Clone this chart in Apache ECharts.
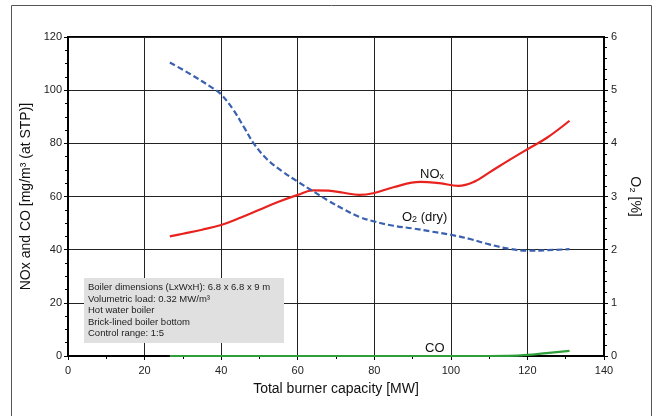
<!DOCTYPE html>
<html><head><meta charset="utf-8">
<script src="https://cdn.jsdelivr.net/npm/echarts@6/dist/echarts.min.js"></script>
<style>html,body{margin:0;padding:0;background:#fff}#c{width:656px;height:416px}</style>
</head><body><div id="c"></div>
<script>
const noxX = [26.6, 30, 35, 40, 45, 50, 55, 60, 64, 68, 72, 76, 80, 85, 92, 97, 102, 106, 110, 115, 120, 125, 131];
const noxY = [45, 46, 47.5, 49.3, 52, 55, 58, 60.6, 62.3, 62.2, 61.4, 60.6, 61.3, 63.5, 65.5, 65, 64, 65.5, 69, 73.5, 77.8, 82, 88.5];
const o2X = [26.6, 32, 38, 40, 43, 46, 48.5, 52, 56, 60, 64, 68, 72, 76, 80, 85, 90, 95, 100, 105, 110, 115, 120, 125, 131];
const o2Y = [5.52, 5.3, 5.03, 4.92, 4.65, 4.3, 4.0, 3.7, 3.47, 3.28, 3.1, 2.92, 2.76, 2.62, 2.53, 2.45, 2.4, 2.34, 2.28, 2.2, 2.1, 2.02, 1.98, 1.99, 2.01];
const coX = [26.6, 40, 60, 80, 100, 110, 115, 120, 125, 131];
const coY = [0, 0, 0, 0, 0, 0, 0.05, 0.4, 1.1, 1.9];
const infoLines = ['Boiler dimensions (LxWxH): 6.8 x 6.8 x 9 m', 'Volumetric load: 0.32 MW/m³', 'Hot water boiler', 'Brick-lined boiler bottom', 'Control range: 1:5'];

const pairs = (xs, ys) => xs.map((x, i) => [x, ys[i]]);
const chart = echarts.init(document.getElementById('c'), null, {renderer: 'canvas'});
const font = 'Arial, "Liberation Sans", sans-serif';
const lbl = {color: '#222', fontSize: 11, fontFamily: font};
chart.setOption({
  animation: false,
  grid: {left: 68, right: 52, top: 37, bottom: 60, show: true, borderColor: '#000', borderWidth: 2, backgroundColor: 'transparent'},
  xAxis: {
    type: 'value', min: 0, max: 140, interval: 20,
    name: 'Total burner capacity [MW]', nameLocation: 'middle', nameGap: 26,
    nameTextStyle: {fontSize: 14, color: '#111', fontFamily: font},
    axisLine: {lineStyle: {color: '#000', width: 2}},
    axisTick: {show: true, length: 4, lineStyle: {color: '#000'}},
    minorTick: {show: true, splitNumber: 2, length: 3, lineStyle: {color: '#000'}},
    axisLabel: Object.assign({margin: 9}, lbl),
    splitLine: {show: true, lineStyle: {color: '#222', width: 1}}
  },
  yAxis: [{
    type: 'value', min: 0, max: 120, interval: 20,
    name: 'NOx and CO [mg/m³ (at STP)]', nameLocation: 'middle', nameGap: 32,
    nameTextStyle: {fontSize: 14, color: '#111', fontFamily: font},
    axisLine: {show: true, lineStyle: {color: '#000', width: 2}},
    axisTick: {show: true, length: 4, lineStyle: {color: '#000'}},
    minorTick: {show: true, splitNumber: 4, length: 3, lineStyle: {color: '#000'}},
    axisLabel: Object.assign({margin: 6}, lbl),
    splitLine: {show: true, lineStyle: {color: '#222', width: 1}}
  }, {
    type: 'value', min: 0, max: 6, interval: 1, position: 'right',
    name: 'O₂ [%]', nameLocation: 'middle', nameGap: 24, nameRotate: -90,
    nameTextStyle: {fontSize: 14, color: '#111', fontFamily: font},
    axisLine: {show: true, lineStyle: {color: '#000', width: 2}},
    axisTick: {show: true, length: 4, lineStyle: {color: '#000'}},
    minorTick: {show: true, splitNumber: 5, length: 3, lineStyle: {color: '#000'}},
    axisLabel: Object.assign({margin: 7}, lbl),
    splitLine: {show: false}
  }],
  series: [
    {type: 'line', name: 'NOx', data: pairs(noxX, noxY), smooth: 0.4, showSymbol: false, yAxisIndex: 0,
      lineStyle: {color: '#e8231f', width: 2.2}, z: 3},
    {type: 'line', name: 'O2', data: pairs(o2X, o2Y), smooth: 0.4, showSymbol: false, yAxisIndex: 1,
      lineStyle: {color: '#3a60b0', width: 2.2, type: [6, 3]}, z: 3},
    {type: 'line', name: 'CO', data: pairs(coX, coY), smooth: 0.4, showSymbol: false, yAxisIndex: 0,
      lineStyle: {color: '#2e9e3a', width: 2.2}, z: 4}
  ],
  graphic: [
    {type: 'rect', shape: {x: 11.5, y: 5.5, width: 640, height: 420}, style: {fill: 'none', stroke: '#555', lineWidth: 1}, z: 0, silent: true},
    {type: 'rect', shape: {x: 84, y: 278, width: 200, height: 65}, style: {fill: '#e0e0e0'}, z: 10},
    {type: 'text', left: 88, top: 282, z: 11, style: {text: infoLines.join('\n'), fontSize: 9.5, lineHeight: 11.4, fill: '#222', fontFamily: font}},
    {type: 'text', left: 420, top: 168, z: 11, style: {text: '{a|NO}{b|x}', rich: {a: {fontSize: 13, fill: '#111', fontFamily: font}, b: {fontSize: 9, fill: '#111', fontFamily: font, padding: [5, 0, 0, 0]}}}},
    {type: 'text', left: 402, top: 211, z: 11, style: {text: '{a|O}{b|2}{a| (dry)}', rich: {a: {fontSize: 13, fill: '#111', fontFamily: font}, b: {fontSize: 9, fill: '#111', fontFamily: font, padding: [5, 0, 0, 0]}}}},
    {type: 'text', left: 425, top: 342, z: 11, style: {text: 'CO', fontSize: 13, fill: '#111', fontFamily: font}}
  ]
});
</script></body></html>
